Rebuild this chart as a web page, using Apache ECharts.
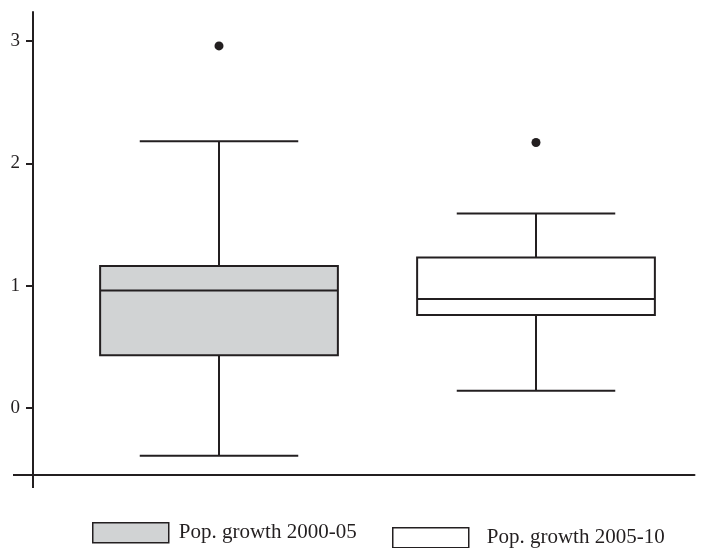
<!DOCTYPE html>
<html>
<head>
<meta charset="utf-8">
<script src="https://cdn.jsdelivr.net/npm/echarts@6/dist/echarts.min.js"></script>
<style>
  html, body { margin: 0; padding: 0; background: #ffffff; }
  #chart { width: 708px; height: 548px; }
</style>
</head>
<body>
<div id="chart"></div>
<script>
// Population growth distributions, two periods
const categories = ['2000-05', '2005-10'];
const seriesNames = ['Pop. growth 2000-05', 'Pop. growth 2005-10'];
// [category index, lower whisker, Q1, median, Q3, upper whisker]
const box2000 = [[0, -0.39, 0.43, 0.96, 1.16, 2.18]];
const box2005 = [[1, 0.14, 0.76, 0.89, 1.23, 1.59]];
// outliers: [category index, value]
const outliers2000 = [[0, 2.96]];
const outliers2005 = [[1, 2.17]];
const yTicks = [0, 1, 2, 3];

const INK = '#231f20';
const FONT = '"Liberation Serif", "DejaVu Serif", serif';
const fills = ['#d1d3d4', '#ffffff'];

function boxRenderer(fill) {
  return function (params, api) {
    const x = api.value(0);
    const lo = api.coord([x, api.value(1)]);
    const q1 = api.coord([x, api.value(2)]);
    const md = api.coord([x, api.value(3)]);
    const q3 = api.coord([x, api.value(4)]);
    const hi = api.coord([x, api.value(5)]);
    const band = api.size([1, 0])[0];
    const bw = band * 0.75;
    const cw = band * 0.5;
    const cx = lo[0];
    const st = { stroke: INK, lineWidth: 2, fill: null };
    const seg = (x1, y1, x2, y2) => ({ type: 'line', shape: { x1, y1, x2, y2 }, style: st });
    return {
      type: 'group',
      children: [
        seg(cx, hi[1], cx, q3[1]),
        seg(cx, q1[1], cx, lo[1]),
        seg(cx - cw / 2, hi[1], cx + cw / 2, hi[1]),
        seg(cx - cw / 2, lo[1], cx + cw / 2, lo[1]),
        {
          type: 'rect',
          shape: { x: cx - bw / 2, y: q3[1], width: bw, height: q1[1] - q3[1] },
          style: { fill: fill, stroke: INK, lineWidth: 2 }
        },
        seg(cx - bw / 2, md[1], cx + bw / 2, md[1])
      ]
    };
  };
}

function legendBlock(idx, left, top, gap) {
  return {
    data: [{
      name: seriesNames[idx],
      icon: 'rect',
      itemStyle: { color: fills[idx], borderColor: INK, borderWidth: 1.5 }
    }],
    left: left,
    top: top,
    padding: 0,
    itemWidth: 76,
    itemHeight: 20,
    selectedMode: false,
    textStyle: { fontFamily: FONT, fontSize: 21, color: INK, padding: [0, 0, 0, gap] }
  };
}

const chart = echarts.init(document.getElementById('chart'), null, { renderer: 'canvas' });
chart.setOption({
  animation: false,
  backgroundColor: '#ffffff',
  grid: { left: 60.5, right: 13.5, top: 12, bottom: 73, containLabel: false },
  legend: [legendBlock(0, 92, 522, 5), legendBlock(1, 392, 527, 13)],
  xAxis: {
    type: 'category',
    data: categories,
    boundaryGap: true,
    axisLine: {
      onZero: false,
      symbol: ['rect', 'none'],
      symbolSize: [2, 95],
      lineStyle: { color: INK, width: 2 }
    },
    axisTick: { show: false },
    axisLabel: { show: false },
    splitLine: { show: false }
  },
  yAxis: {
    type: 'value',
    min: -0.548,
    max: 3.237,
    offset: 27.5,
    axisLine: {
      show: true,
      symbol: ['rect', 'none'],
      symbolSize: [2, 26],
      lineStyle: { color: INK, width: 2 }
    },
    axisTick: { show: true, length: 7, customValues: yTicks, lineStyle: { color: INK, width: 2 } },
    axisLabel: { customValues: yTicks, margin: 13, fontFamily: FONT, fontSize: 19, color: INK },
    splitLine: { show: false }
  },
  series: [
    {
      name: seriesNames[0],
      type: 'custom',
      renderItem: boxRenderer(fills[0]),
      itemStyle: { color: fills[0], borderColor: INK },
      encode: { x: 0, y: [1, 2, 3, 4, 5] },
      data: box2000
    },
    {
      name: seriesNames[1],
      type: 'custom',
      renderItem: boxRenderer(fills[1]),
      itemStyle: { color: fills[1], borderColor: INK },
      encode: { x: 0, y: [1, 2, 3, 4, 5] },
      data: box2005
    },
    {
      name: 'outliers 2000-05',
      type: 'scatter',
      symbol: 'circle',
      symbolSize: 9,
      itemStyle: { color: INK, opacity: 1 },
      data: outliers2000
    },
    {
      name: 'outliers 2005-10',
      type: 'scatter',
      symbol: 'circle',
      symbolSize: 9,
      itemStyle: { color: INK, opacity: 1 },
      data: outliers2005
    }
  ]
});
</script>
</body>
</html>
